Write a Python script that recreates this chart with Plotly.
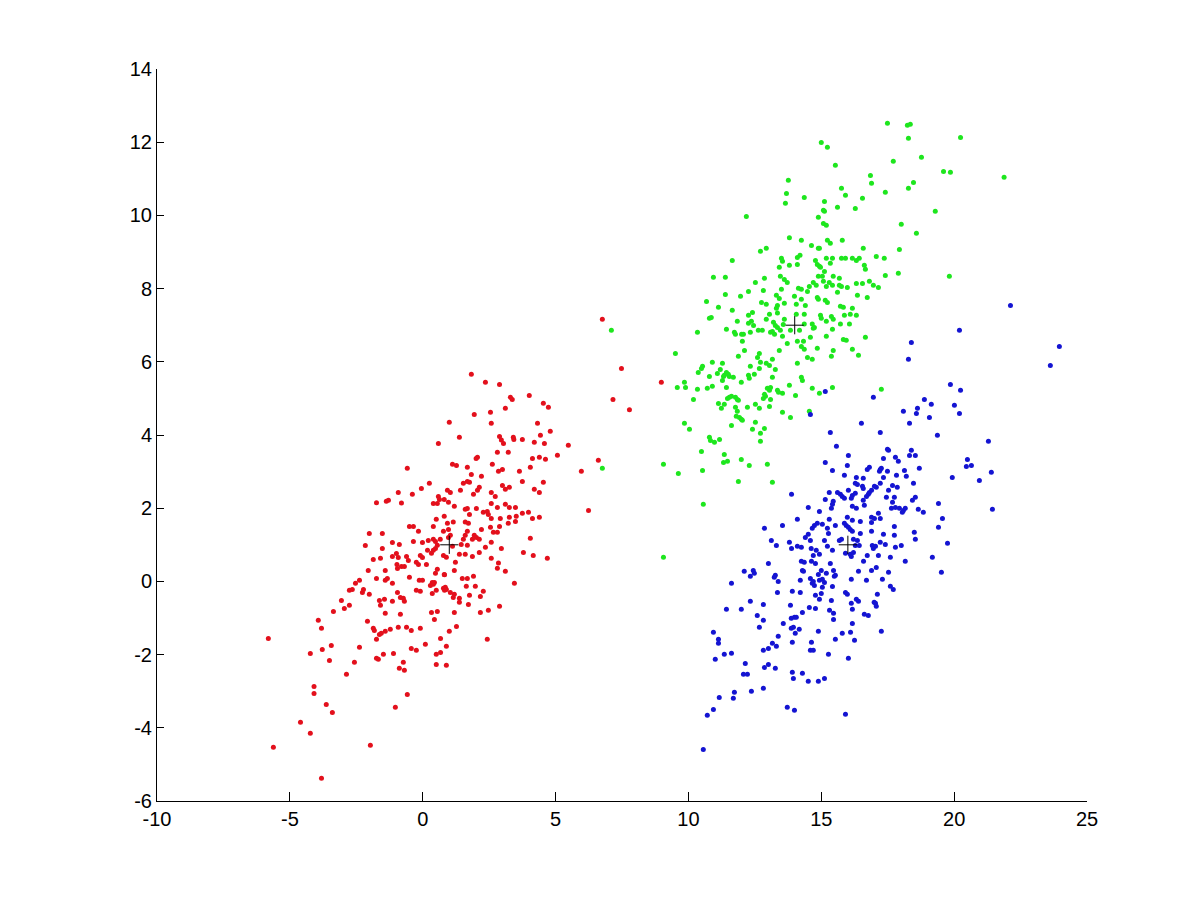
import plotly.graph_objects as go

# ---- data (x, y) ----
red_points = [
    (-0.58, 3.09), (0.25, 2.68), (-0.92, 2.43), (-0.05, 2.54), (-0.39, 2.38), (-1.74, 2.15), (-1.37, 2.19),
    (-1.29, 2.22), (-0.80, 2.14), (-0.50, 1.50), (-0.35, 1.50), (-0.16, 1.37), (-2.01, 1.31), (-1.52, 1.31),
    (-2.16, 0.98), (-1.52, 0.90), (-1.14, 1.06), (-0.88, 1.01), (-0.35, 1.09), (-0.01, 1.06), (0.21, 1.12),
    (-1.86, 0.60), (-1.59, 0.63), (-1.14, 0.68), (-0.99, 0.76), (-0.92, 0.65), (-0.61, 0.68), (-0.54, 0.57),
    (-0.24, 0.52), (-0.16, 0.46), (0.14, 0.46), (-0.09, 0.71), (-0.01, 0.65), (-0.97, 0.46), (-0.95, 0.35),
    (-0.80, 0.41), (-0.69, 0.41), (-2.05, 0.30), (-1.41, 0.30), (0.18, 0.85),
    (6.76, 7.16), (7.16, 4.97), (6.61, 3.31), (5.97, 3.01), (6.24, 1.94), (7.48, 5.82), (8.98, 5.44), (7.78, 4.69),
    (1.83, 5.66), (2.36, 5.44), (2.89, 5.38), (3.30, 5.03), (3.37, 4.97), (4.01, 5.08), (4.54, 4.87), (4.73, 4.76),
    (3.11, 4.73), (2.55, 4.62), (1.94, 4.56), (2.58, 4.32), (1.00, 4.35), (4.32, 4.32), (4.80, 4.10), (4.43, 3.99),
    (1.38, 3.94), (0.59, 3.77), (2.89, 3.96), (2.96, 3.86), (3.41, 3.94), (3.43, 3.88), (3.75, 3.88), (3.04, 3.77),
    (4.20, 3.80), (4.58, 3.77), (5.48, 3.72), (2.81, 3.53), (3.22, 3.53), (5.07, 3.45), (2.06, 3.39), (2.01, 3.36),
    (4.13, 3.36), (4.39, 3.39), (4.62, 3.34), (1.12, 3.20), (1.27, 3.17), (1.68, 3.12), (2.62, 3.20), (4.05, 3.12),
    (2.85, 3.01), (3.00, 3.06), (3.64, 3.01), (1.83, 2.92), (2.21, 2.87), (1.53, 2.68), (1.68, 2.73), (1.76, 2.71),
    (3.75, 2.73), (4.54, 2.71), (3.00, 2.62), (3.11, 2.52), (3.26, 2.57), (2.13, 2.57), (2.06, 2.49), (1.42, 2.49),
    (1.04, 2.43), (0.93, 2.49), (2.58, 2.43), (1.91, 2.38), (2.73, 2.32), (4.20, 2.52), (4.39, 2.43), (0.59, 2.32),
    (0.81, 2.24), (0.63, 2.24), (0.97, 2.16), (0.40, 2.13), (0.55, 2.13), (1.19, 2.05), (2.58, 2.13), (3.11, 2.11),
    (3.26, 2.02), (3.49, 2.02), (1.60, 1.97), (1.68, 1.99), (2.02, 1.99), (2.28, 1.89), (2.43, 1.91), (2.47, 1.83),
    (2.81, 2.02), (3.75, 1.86), (3.98, 1.89), (3.52, 1.78), (1.76, 1.83), (0.51, 1.70), (0.81, 1.78), (1.15, 1.62),
    (0.93, 1.59), (1.60, 1.62), (1.72, 1.59), (2.58, 1.72), (2.92, 1.72), (3.26, 1.75), (3.49, 1.64), (3.22, 1.59),
    (4.13, 1.72), (4.39, 1.75), (0.40, 1.50), (0.78, 1.37), (0.97, 1.42), (2.89, 1.50), (2.21, 1.42), (2.55, 1.48),
    (2.66, 1.34), (2.81, 1.34), (1.04, 1.26), (0.97, 1.20), (1.68, 1.37), (1.60, 1.26), (1.53, 1.15), (1.94, 1.26),
    (2.02, 1.20), (2.13, 1.15), (1.87, 1.15), (4.05, 1.18), (0.40, 1.15), (0.48, 1.09), (0.66, 1.15), (1.12, 0.96),
    (0.55, 0.99), (0.48, 0.90), (0.40, 0.85), (0.33, 0.77), (1.45, 1.01), (1.68, 0.99), (2.36, 0.93), (2.58, 1.07),
    (2.13, 0.79), (1.87, 0.68), (2.96, 0.90), (3.79, 0.79), (4.16, 0.71), (4.69, 0.63), (1.38, 0.74), (1.60, 0.74),
    (0.78, 0.71), (0.89, 0.66), (2.58, 0.63), (1.23, 0.52), (2.85, 0.50), (2.81, 0.36), (3.11, 0.28), (0.55, 0.33),
    (0.48, 0.22), (1.19, 0.30), (0.81, 0.19),
    (-5.81, -1.56), (-3.93, -1.06), (-3.81, -1.28), (-3.36, -0.82), (-3.06, -0.52), (-2.95, -0.74), (-2.76, -0.65),
    (-2.76, -0.24), (-2.65, -0.22), (-2.53, -0.05), (-2.38, 0.03), (-2.27, -0.30), (-2.23, -0.22), (-2.01, -0.35),
    (-1.74, 0.08), (-1.41, 0.03), (-1.33, 0.08), (-1.14, -0.05), (-0.95, -0.30), (-1.63, -0.52), (-1.44, -0.49),
    (-1.59, -0.65), (-1.14, -0.54), (-0.84, -0.44), (-0.73, -0.46), (-0.69, -0.54), (-0.50, 0.11), (-0.13, 0.03),
    (-0.01, 0.03), (-0.24, -0.24), (-0.09, -0.27), (0.29, -0.11), (0.36, -0.03), (0.44, -0.03), (0.40, -0.08),
    (0.36, -0.33), (0.51, -0.24), (0.82, 0.18), (0.78, -0.19), (0.85, -0.16), (0.82, -0.24), (0.89, -0.22),
    (1.04, -0.30), (1.19, -0.35), (1.15, -0.44), (1.38, -0.46), (1.38, -0.57), (1.49, 0.08), (1.68, 0.08),
    (1.91, 0.14), (1.64, -0.13), (1.98, -0.13), (1.76, -0.38), (1.72, -0.63), (2.17, -0.41), (2.28, -0.27),
    (3.45, -0.05), (2.89, -0.68), (2.47, -0.79), (2.17, -0.85), (1.19, -0.85), (0.55, -0.82), (0.33, -0.85),
    (0.44, -1.04), (1.27, -1.23), (1.00, -1.36), (0.67, -1.56), (0.89, -1.77), (0.67, -1.94), (0.51, -1.99),
    (0.51, -2.27), (0.89, -2.29), (2.43, -1.58), (0.10, -1.72), (-0.43, -1.83), (-0.24, -1.88), (-0.09, -1.28),
    (-0.43, -1.34), (-0.61, -1.25), (-0.92, -1.25), (-1.22, -1.31), (-1.41, -1.36), (-1.63, -1.45), (-1.56, -1.42),
    (-1.86, -1.28), (-1.82, -1.34), (-1.74, -1.58), (-2.08, -1.09), (-1.41, -0.87), (-0.84, -0.90), (-2.38, -1.80),
    (-2.57, -2.21), (-2.87, -2.54), (-3.44, -1.75), (-3.78, -1.86), (-4.23, -1.97), (-3.51, -2.16), (-1.74, -2.10),
    (-1.67, -2.13), (-1.48, -1.99), (-1.10, -1.97), (-0.73, -2.21), (-0.88, -2.37), (-0.69, -2.43), (-0.58, -3.09),
    (-1.03, -3.44), (-4.09, -2.87), (-4.09, -3.06), (-3.63, -3.36), (-3.40, -3.58), (-4.60, -3.85), (-4.23, -4.15),
    (-5.62, -4.53), (-1.97, -4.48), (-3.81, -5.38),
]

green_points = [
    (7.10, 6.86), (6.76, 3.09),
    (13.76, 10.96), (13.69, 10.60), (13.65, 10.33), (12.18, 9.97), (13.80, 9.39), (12.71, 9.02), (12.93, 9.10),
    (11.65, 8.77), (13.50, 8.83), (13.54, 8.75), (13.42, 8.58), (13.80, 8.64), (14.10, 8.85), (14.10, 8.66),
    (10.94, 8.31), (11.39, 8.31), (12.52, 8.17), (12.86, 8.28), (13.46, 8.34), (13.61, 8.25), (13.72, 8.17),
    (14.14, 8.01), (11.39, 7.84), (11.96, 7.79), (12.26, 7.92), (12.82, 7.95), (13.31, 7.82), (13.42, 7.73),
    (13.50, 7.98), (13.99, 7.79), (10.68, 7.65), (11.13, 7.49), (11.65, 7.41), (12.75, 7.62), (12.93, 7.57),
    (13.35, 7.54), (13.31, 7.46), (13.61, 7.60), (14.06, 7.57), (10.79, 7.19), (10.86, 7.21), (11.84, 7.11),
    (12.26, 7.27), (12.41, 7.35), (12.26, 7.05), (12.37, 7.11), (12.45, 6.99), (13.05, 7.30), (13.35, 7.33),
    (12.93, 7.16), (13.20, 7.08), (13.27, 6.99), (13.35, 6.94), (13.61, 7.16), (13.57, 7.02), (14.06, 7.30),
    (10.34, 6.81), (11.43, 6.89), (11.73, 6.81), (11.77, 6.75), (12.00, 6.75), (12.07, 6.75), (12.33, 6.81),
    (12.63, 6.86), (12.78, 6.86), (13.09, 6.81), (13.16, 6.83), (13.24, 6.75), (13.46, 6.86), (13.84, 6.86),
    (14.18, 6.86),
    (17.49, 12.52), (18.24, 12.46), (18.35, 12.49), (18.28, 12.11), (20.24, 12.13), (15.00, 11.99), (15.23, 11.86),
    (18.77, 11.59), (17.71, 11.48), (15.53, 11.37), (19.60, 11.20), (19.86, 11.18), (21.88, 11.04), (16.85, 11.09),
    (16.89, 10.88), (18.47, 10.90), (18.28, 10.74), (17.41, 10.63), (15.76, 10.74), (15.91, 10.55), (14.36, 10.49),
    (16.55, 10.47), (15.12, 10.38), (15.61, 10.22), (16.28, 10.19), (15.12, 10.11), (15.08, 10.14), (19.29, 10.11),
    (14.89, 9.95), (15.08, 9.78), (15.19, 9.73), (18.01, 9.76), (18.58, 9.51), (14.25, 9.32), (15.23, 9.32),
    (15.34, 9.24), (15.79, 9.32), (14.63, 9.18), (14.89, 9.10), (14.93, 9.10), (16.58, 9.10), (17.94, 9.07),
    (14.20, 8.91), (14.78, 8.77), (14.85, 8.66), (14.93, 8.61), (14.97, 8.58), (15.19, 8.83), (15.42, 8.83),
    (15.34, 8.69), (15.76, 8.83), (15.91, 8.83), (16.17, 8.83), (16.32, 8.77), (16.43, 8.83), (16.62, 8.64),
    (16.66, 8.53), (17.07, 8.88), (17.37, 8.83), (17.41, 8.36), (17.90, 8.42), (19.82, 8.34), (15.12, 8.47),
    (14.89, 8.34), (15.04, 8.34), (15.45, 8.34), (15.68, 8.28), (14.70, 8.17), (14.81, 8.09), (15.08, 8.20),
    (15.30, 8.17), (15.42, 8.09), (15.68, 8.09), (15.76, 8.06), (15.98, 8.03), (16.32, 8.14), (16.55, 8.14),
    (16.81, 8.20), (16.96, 8.09), (17.15, 8.03), (14.55, 8.06), (14.48, 7.92), (14.25, 7.98), (15.19, 8.06),
    (15.61, 7.90), (14.85, 7.76), (14.89, 7.71), (15.15, 7.68), (15.23, 7.62), (16.36, 7.82), (16.73, 7.76),
    (14.25, 7.71), (14.40, 7.54), (15.72, 7.52), (15.83, 7.49), (16.17, 7.46), (15.87, 7.27), (16.09, 7.30),
    (16.32, 7.27), (14.36, 7.30), (14.97, 7.27), (15.00, 7.19), (15.38, 7.24), (15.45, 7.16), (15.19, 7.11),
    (14.66, 7.03), (14.74, 6.94), (14.70, 6.92), (14.36, 7.03), (15.72, 7.03), (16.06, 7.03), (15.42, 6.89),
    (9.51, 6.23), (9.85, 5.44), (9.89, 5.30), (9.58, 5.30), (10.34, 5.25), (10.19, 4.97), (10.37, 5.71),
    (10.49, 5.82), (10.53, 5.88), (10.79, 5.60), (10.90, 5.99), (10.71, 5.28), (10.90, 5.33), (11.09, 5.68),
    (11.20, 5.79), (11.28, 5.96), (11.32, 5.60), (11.35, 5.63), (11.28, 5.49), (11.43, 5.71), (11.50, 5.66),
    (11.54, 5.60), (11.69, 5.58), (11.43, 5.30), (11.88, 6.15), (12.11, 6.31), (12.03, 6.56), (11.13, 4.86),
    (11.35, 4.84), (11.24, 4.73), (11.47, 5.00), (11.54, 5.03), (11.62, 5.06), (11.77, 5.03), (11.84, 4.97),
    (11.88, 4.95), (11.99, 5.44), (12.26, 5.63), (12.29, 5.55), (12.33, 5.88), (12.48, 5.66), (12.60, 6.12),
    (12.67, 6.23), (12.67, 5.82), (12.71, 5.99), (12.93, 5.96), (13.05, 5.90), (13.16, 6.07), (13.27, 5.79),
    (13.16, 5.58), (13.42, 6.31), (13.54, 6.70), (13.72, 6.50), (14.10, 6.56), (14.10, 5.96), (13.80, 5.36),
    (14.03, 5.08), (13.54, 5.14), (13.35, 5.22), (13.39, 5.17), (12.97, 5.28), (13.05, 5.22), (13.09, 5.30),
    (12.90, 5.06), (12.82, 5.00), (12.86, 5.11), (13.09, 4.97), (13.05, 4.78), (12.67, 4.73), (12.52, 4.84),
    (12.22, 4.76), (11.77, 4.76), (11.84, 4.65), (11.80, 4.51), (11.92, 4.48), (11.99, 4.43), (12.03, 4.40),
    (11.62, 4.26), (13.54, 4.62), (13.84, 4.48), (12.52, 4.35), (12.86, 4.18), (12.41, 4.16), (12.71, 4.05),
    (12.71, 3.83), (9.85, 4.32), (10.04, 4.16), (10.79, 3.94), (10.83, 3.85), (10.98, 3.80), (11.17, 3.88),
    (10.49, 3.55), (11.35, 3.47), (11.32, 3.25), (11.47, 3.28), (11.99, 3.33), (12.29, 3.17), (12.97, 3.20),
    (9.06, 3.20), (9.62, 2.95), (10.53, 3.03), (11.88, 2.73), (13.16, 2.71), (10.56, 2.11), (9.06, 0.66),
    (14.59, 6.67), (14.33, 6.56), (14.25, 6.42), (14.36, 6.34), (15.19, 6.70), (15.83, 6.61), (15.94, 6.59),
    (16.66, 6.67), (14.85, 6.37), (15.45, 6.31), (16.17, 6.34), (14.48, 6.12), (14.66, 6.07), (15.38, 6.15),
    (16.40, 6.18), (14.25, 5.58), (14.29, 5.49), (14.66, 5.28), (14.93, 5.14), (15.42, 5.30), (17.26, 5.25),
    (14.55, 4.65),
]

blue_points = [
    (22.12, 7.54), (20.20, 6.86), (23.96, 6.42), (23.62, 5.90),
    (13.88, 2.38), (14.10, 1.70), (13.54, 1.53), (12.86, 1.45), (13.12, 1.12), (13.31, 0.98), (13.80, 1.07),
    (13.88, 0.90), (14.10, 0.96),
    (18.39, 6.53), (18.28, 6.07), (19.86, 5.38), (20.24, 5.22), (15.15, 5.19), (16.96, 5.03), (18.88, 4.97),
    (19.14, 4.84), (18.62, 4.73), (18.58, 4.59), (20.01, 4.81), (20.20, 4.59), (18.09, 4.65), (19.07, 4.48),
    (14.59, 4.56), (16.51, 4.32), (18.32, 4.32), (15.34, 4.07), (17.22, 4.07), (19.37, 3.99), (21.29, 3.83),
    (15.57, 3.69), (17.49, 3.61), (17.53, 3.58), (18.39, 3.58), (18.32, 3.44), (18.54, 3.44), (16.02, 3.44),
    (17.34, 3.36), (17.79, 3.39), (17.90, 3.28), (15.15, 3.25), (15.98, 3.17), (18.69, 3.09), (20.50, 3.33),
    (20.46, 3.14), (20.65, 3.17), (15.42, 3.03), (16.73, 3.06), (16.81, 3.12), (17.22, 3.06), (17.19, 3.01),
    (17.26, 3.09), (17.49, 3.01), (18.13, 3.03), (21.40, 2.98), (15.87, 2.90), (16.32, 2.84), (16.58, 2.82),
    (17.34, 2.84), (17.83, 2.90), (18.20, 2.87), (19.93, 2.84), (20.95, 2.76), (16.28, 2.68), (16.36, 2.65),
    (16.55, 2.60), (16.58, 2.54), (17.22, 2.68), (17.07, 2.57), (17.00, 2.60), (17.53, 2.49), (17.68, 2.62),
    (17.86, 2.57), (18.47, 2.68), (16.02, 2.49), (15.30, 2.43), (15.61, 2.43), (15.72, 2.38), (15.79, 2.32),
    (15.87, 2.27), (16.17, 2.35), (16.13, 2.27), (16.28, 2.41), (16.81, 2.43), (16.89, 2.49), (16.77, 2.38),
    (16.70, 2.32), (17.45, 2.30), (17.75, 2.30), (18.43, 2.22), (18.54, 2.30), (15.15, 2.24), (15.45, 2.19),
    (15.42, 2.11), (15.38, 2.00), (16.58, 2.22), (16.62, 2.08), (16.17, 2.05), (16.32, 2.00), (17.68, 2.16),
    (19.41, 2.13), (21.44, 1.97), (14.51, 2.02), (14.93, 1.91), (17.64, 2.00), (17.79, 2.02), (17.94, 2.00),
    (18.09, 1.94), (18.16, 2.00), (18.05, 1.89), (18.65, 1.97), (18.84, 1.89), (17.15, 1.86), (16.89, 1.75),
    (17.00, 1.72), (17.22, 1.72), (15.98, 1.75), (16.17, 1.67), (15.30, 1.70), (16.47, 1.64), (16.89, 1.61),
    (17.75, 1.50), (19.56, 1.72), (19.41, 1.48), (14.74, 1.53), (14.85, 1.59), (14.66, 1.45), (15.04, 1.56),
    (15.53, 1.53), (15.87, 1.59), (15.94, 1.53), (16.02, 1.48), (16.09, 1.42), (14.51, 1.29), (14.40, 1.20),
    (15.23, 1.45), (15.27, 1.31), (16.17, 1.37), (16.47, 1.31), (16.89, 1.37), (17.34, 1.29), (17.75, 1.26),
    (18.50, 1.34), (18.54, 1.15), (14.59, 1.12), (14.25, 0.93), (15.12, 1.12), (15.68, 1.12), (15.76, 1.15),
    (16.21, 1.15), (16.28, 0.98), (16.36, 1.12), (16.43, 0.98), (16.92, 0.98), (16.96, 0.90), (17.04, 0.96),
    (17.22, 1.07), (17.41, 1.01), (17.79, 0.93), (18.01, 0.98), (19.75, 1.04), (14.62, 0.90), (14.81, 0.85),
    (14.93, 0.74), (14.70, 0.71), (15.23, 0.96), (15.42, 0.85), (15.91, 0.77), (16.09, 0.74), (16.13, 0.68),
    (16.21, 0.79), (16.73, 0.71), (17.15, 0.71), (17.60, 0.66), (19.18, 0.66),
    (13.01, 0.49), (12.10, 0.28), (12.44, 0.30), (12.48, 0.22), (13.27, 0.17), (13.23, 0.11), (12.33, 0.14),
    (13.38, 0.00), (11.62, -0.05), (13.35, -0.30), (13.91, -0.27), (14.21, -0.30), (14.25, 0.55), (14.36, 0.52),
    (14.63, 0.55), (14.78, 0.49), (14.29, 0.30), (14.33, 0.28), (14.21, 0.03), (14.59, 0.08), (14.70, 0.00),
    (14.66, -0.05), (14.74, -0.11), (14.89, 0.19), (15.00, 0.30), (15.19, 0.22), (15.04, 0.06), (14.93, 0.03),
    (15.12, -0.03), (15.34, 0.49), (15.46, 0.30), (15.53, 0.17), (15.49, 0.14), (15.42, -0.14), (15.04, -0.16),
    (14.78, -0.38), (15.00, -0.33), (14.93, -0.49), (15.38, -0.52), (14.55, -0.71), (14.78, -0.74), (15.31, -0.79),
    (15.46, -0.87), (15.46, -1.04), (15.91, -0.30), (15.98, -0.35), (16.13, 0.06), (16.40, 0.28), (16.59, 0.55),
    (16.89, 0.30), (17.07, 0.38), (16.70, 0.03), (16.32, -0.49), (16.40, -0.54), (16.13, -0.60), (16.17, -0.76),
    (16.99, -0.57), (16.62, -0.90), (16.77, -0.93), (16.17, -1.15), (15.79, -1.42), (16.10, -1.39), (16.25, -1.61),
    (16.02, -2.10), (15.53, -1.58), (15.27, -1.99), (14.89, -1.36), (14.63, -1.66), (14.59, -1.88), (14.70, -1.88),
    (14.29, -0.85), (13.99, -0.98), (14.06, -0.98), (13.87, -1.01), (13.84, -0.65), (13.57, -1.15), (13.87, -1.28),
    (13.95, -1.25), (14.17, -1.31), (14.02, -1.42), (13.91, -1.66), (13.38, -1.50), (13.16, -1.69), (13.31, -1.77),
    (13.01, -1.83), (12.82, -1.88), (12.67, -1.25), (12.59, -0.93), (12.82, -1.06), (12.82, -0.63), (12.33, -0.54),
    (11.99, -0.76), (11.43, -0.76), (10.94, -1.39), (11.13, -1.58), (11.13, -1.69), (11.35, -1.99), (11.62, -1.96),
    (11.01, -2.13), (12.14, -2.24), (12.86, -2.35), (13.01, -2.27), (13.27, -2.37), (12.07, -2.54), (12.22, -2.54),
    (13.91, -2.48), (13.95, -2.65), (14.29, -2.51), (14.51, -2.73), (14.89, -2.73), (15.12, -2.65), (12.82, -2.92),
    (12.37, -3.00), (11.73, -3.03), (11.69, -3.19), (11.16, -3.17), (10.94, -3.50), (10.71, -3.66), (13.72, -3.44),
    (13.99, -3.52), (15.91, -3.63), (10.56, -4.59),
    (18.16, 0.55), (17.53, 0.25), (19.52, 0.25), (17.30, 0.06), (17.60, -0.13), (17.71, -0.22), (17.11, -0.35),
    (17.04, -0.60), (17.07, -0.68), (17.26, -1.36),
]

center_x = [1, 14, 16]
center_y = [1, 7, 1]

x_ticks = [-10, -5, 0, 5, 10, 15, 20, 25]
x_tick_labels = ["-10", "-5", "0", "5", "10", "15", "20", "25"]
y_ticks = [-6, -4, -2, 0, 2, 4, 6, 8, 10, 12, 14]
y_tick_labels = ["-6", "-4", "-2", "0", "2", "4", "6", "8", "10", "12", "14"]

FONT = "Liberation Sans, Arial, Helvetica, sans-serif"

fig = go.Figure()
for pts, col in [(red_points, "#e3101c"), (green_points, "#1ee61e"), (blue_points, "#1414d2")]:
    xs = [p[0] for p in pts]
    ys = [p[1] for p in pts]
    fig.add_trace(go.Scatter(x=xs, y=ys, mode="markers",
                             marker=dict(symbol="circle", size=5, color=col, line=dict(width=0)),
                             hoverinfo="skip"))

fig.add_trace(go.Scatter(x=center_x, y=center_y, mode="markers",
                         marker=dict(symbol="cross-thin", size=13, color="black",
                                     line=dict(width=1, color="black")),
                         hoverinfo="skip"))

axis_common = dict(showline=True, linecolor="black", linewidth=1, ticks="inside",
                   tickcolor="black", tickwidth=1, showgrid=False, zeroline=False,
                   mirror=False, tickfont=dict(family=FONT, size=20, color="black"))

fig.update_layout(
    width=1201, height=901,
    margin=dict(l=157, r=114, t=69, b=100),
    plot_bgcolor="white", paper_bgcolor="white",
    showlegend=False,
    xaxis=dict(range=[-10, 25], tickvals=x_ticks, ticktext=x_tick_labels, ticklen=9, **axis_common),
    yaxis=dict(range=[-6, 14], tickvals=y_ticks, ticktext=y_tick_labels, ticklen=7, **axis_common),
)

fig.write_html("out.html", config={"displayModeBar": False},
               post_script="document.body.style.margin='0';document.body.style.overflow='hidden';")
